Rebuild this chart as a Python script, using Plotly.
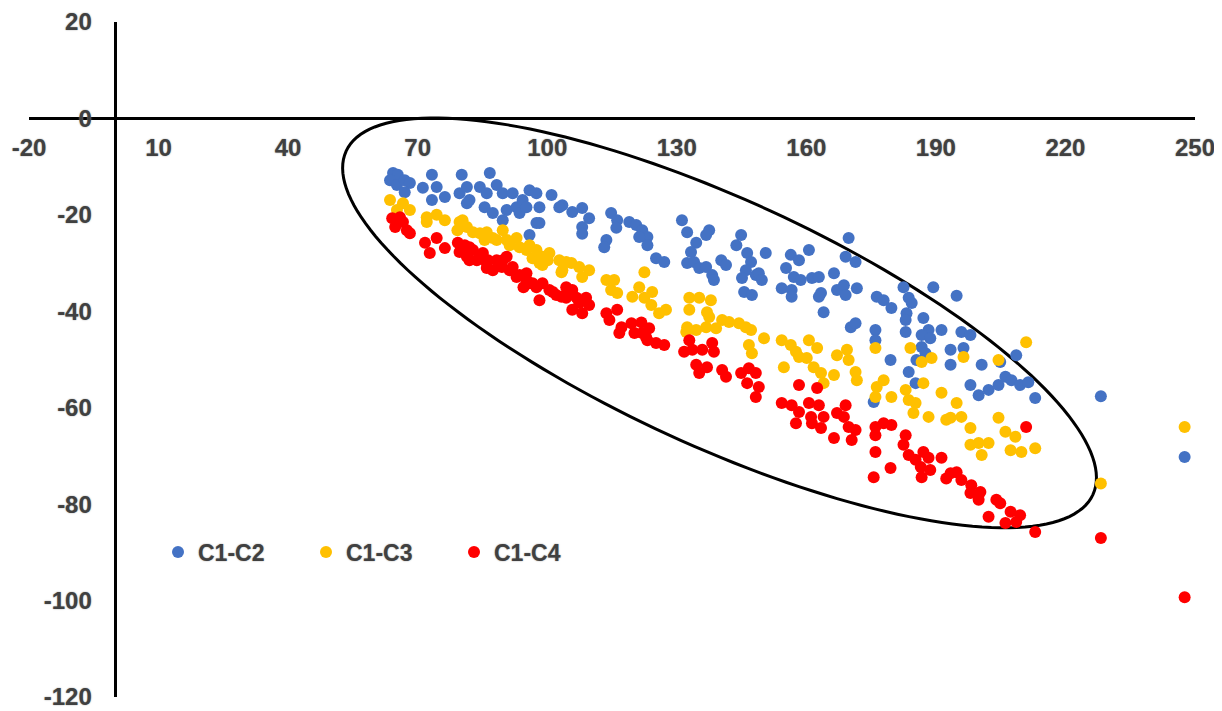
import numpy as np
import plotly.graph_objects as go

# ---------------- data ----------------
series_names = ["C1-C2", "C1-C3", "C1-C4"]
series_colors = ["#4472C4", "#FFC000", "#FF0000"]

c2_x = [64.3, 65.4, 63.6, 65.2, 67.0, 68.2, 67.0, 73.3, 71.2, 74.4, 73.3, 76.3, 80.2, 79.7, 81.4, 81.4,
        86.7, 84.4, 82.0, 86.0, 88.3, 89.7, 85.5, 87.4, 90.6, 92.9, 92.0, 94.3, 95.9, 97.5, 98.2, 101.0,
        103.5, 97.5, 95.9, 93.6, 89.7, 98.2, 95.2, 102.8, 105.8, 108.1, 109.7, 108.1, 108.1, 114.8, 116.2,
        116.0, 113.7, 113.2, 119.0, 120.6, 122.0, 123.2, 121.3, 123.2, 125.2, 127.1, 131.2, 132.4, 134.5,
        133.3, 132.4, 134.0, 135.2, 136.8, 138.2, 138.6, 137.5, 136.8, 140.3, 141.4, 144.9, 143.8, 146.3,
        147.2, 146.0, 145.1, 148.3, 145.6, 147.4, 150.6, 149.0, 149.7, 155.3, 156.4, 158.3, 160.6, 157.1,
        158.7, 161.3, 162.9, 154.3, 156.6, 156.6, 163.4, 162.9, 164.0, 166.4, 167.1, 168.7, 169.1, 171.7,
        169.8, 169.1, 171.4, 170.3, 171.4, 176.3, 177.9, 179.7, 176.0, 176.0, 182.5, 183.7, 184.4, 183.2,
        183.0, 183.0, 187.1, 188.3, 186.7, 188.7, 191.3, 186.7, 187.6, 185.5, 183.7, 185.3, 179.5, 175.6,
        189.4, 194.8, 195.9, 198.0, 193.4, 196.4, 193.4, 200.6, 208.6, 204.9, 198.0, 199.9, 202.2, 204.5,
        206.1, 207.5, 209.5, 211.4, 213.0, 228.2, 247.6]
c2_y = [-11.3, -11.7, -12.8, -13.8, -12.8, -13.4, -15.3, -11.7, -14.4, -14.2, -16.9, -16.3, -11.7, -15.5, -14.2, -17.6,
        -11.3, -14.2, -16.9, -15.5, -13.8, -15.5, -18.4, -19.6, -19.0, -18.4, -15.5, -16.9, -14.9, -15.5, -18.4, -15.9,
        -18.0, -21.7, -24.2, -19.6, -21.1, -21.7, -18.4, -18.4, -19.4, -18.6, -20.7, -22.5, -23.9, -19.6, -21.1,
        -22.7, -25.2, -26.7, -21.5, -22.1, -23.2, -24.6, -24.6, -26.3, -29.0, -29.8, -21.1, -23.6, -25.8,
        -27.7, -30.0, -29.8, -31.0, -30.8, -32.5, -33.5, -23.2, -24.2, -29.4, -30.4, -24.2, -26.3, -27.9,
        -29.8, -31.5, -33.1, -32.5, -36.0, -36.6, -27.9, -32.1, -33.5, -31.0, -28.3, -29.4, -27.3, -32.9,
        -33.5, -33.1, -32.9, -35.2, -35.6, -37.0, -36.2, -37.0, -40.2, -32.1, -35.6, -34.6, -36.6, -35.2,
        -24.8, -28.7, -29.8, -43.3, -42.5, -37.0, -37.7, -39.3, -43.9, -46.0, -35.0, -37.2, -38.3, -40.4,
        -41.8, -44.3, -41.4, -43.9, -44.9, -45.6, -43.9, -47.4, -48.7, -50.1, -52.6, -54.9, -50.1, -58.8,
        -35.0, -36.8, -44.3, -44.9, -48.0, -47.6, -51.1, -51.1, -49.1, -50.5, -55.3, -57.4, -56.3, -55.3,
        -53.6, -54.3, -55.3, -54.7, -58.0, -57.6, -70.2]

c3_x = [63.6, 66.6, 65.2, 68.2, 72.1, 74.4, 76.3, 72.1, 79.7, 79.2, 81.4, 82.8, 84.4, 86.0, 85.5, 88.3,
        89.7, 90.6, 91.3, 92.9, 93.6, 95.2, 97.5, 98.9, 100.5, 98.2, 102.8, 103.5, 104.4, 80.4, 87.4,
        95.9, 96.6, 100.1, 103.3, 98.9, 105.6, 107.4, 109.7, 108.1, 113.7, 115.5, 114.8, 116.2, 122.5,
        121.3, 119.7, 122.5, 124.3, 124.1, 125.9, 127.5, 132.9, 135.2, 137.9, 132.9, 137.0, 137.5, 132.4,
        132.2, 134.5, 136.8, 139.1, 140.5, 142.1, 144.4, 146.0, 147.2, 146.7, 147.4, 150.2, 154.3, 156.4,
        157.6, 160.6, 162.5, 158.3, 160.1, 154.8, 161.7, 163.4, 166.4, 164.0, 167.1, 169.4, 169.8, 171.4,
        171.7, 176.0, 177.9, 176.3, 176.0, 179.7, 184.1, 186.7, 189.0, 187.1, 183.0, 183.7, 185.3, 184.8,
        188.3, 191.3, 192.4, 196.4, 204.5, 210.9, 194.8, 193.4, 195.9, 198.0, 204.5, 206.1, 208.4, 198.0,
        199.9, 202.2, 200.6, 207.3, 209.8, 213.0, 228.2, 247.6]
c3_y = [-16.9, -17.6, -19.0, -19.0, -20.5, -20.0, -21.1, -21.5, -21.5, -23.2, -22.5, -23.6, -23.8, -23.6, -25.2, -25.2,
        -23.2, -25.2, -26.3, -24.8, -26.7, -27.3, -27.3, -28.7, -27.9, -30.0, -29.4, -31.5, -29.8, -21.1, -24.8,
        -26.3, -29.0, -29.4, -31.9, -30.4, -30.0, -30.8, -31.5, -32.9, -33.5, -33.5, -35.6, -36.2, -31.9,
        -35.0, -37.0, -37.2, -36.0, -38.7, -40.4, -39.7, -37.2, -37.2, -37.7, -39.7, -40.2, -41.2, -43.3,
        -44.3, -43.9, -43.3, -43.5, -41.8, -42.2, -42.5, -43.3, -43.9, -47.0, -48.7, -45.6, -46.0, -47.0,
        -48.4, -46.0, -47.6, -49.5, -49.7, -51.6, -51.6, -52.8, -53.2, -54.9, -49.1, -48.0, -50.1, -52.6,
        -54.3, -47.6, -54.3, -55.7, -57.8, -57.8, -47.6, -50.5, -49.7, -54.9, -56.3, -58.4, -59.0, -61.1,
        -61.9, -56.9, -62.5, -49.5, -50.1, -46.4, -59.0, -62.1, -61.9, -64.2, -62.1, -65.0, -66.0, -67.7,
        -67.3, -67.3, -69.8, -68.8, -69.2, -68.4, -75.7, -64.0]

c4_x = [64.1, 64.8, 65.9, 66.6, 67.5, 68.2, 71.7, 74.4, 72.8, 76.3, 79.3, 79.7, 81.4, 80.9, 82.0, 82.8,
        83.7, 84.4, 82.0, 85.1, 86.3, 86.0, 86.0, 87.4, 88.3, 89.7, 89.5, 90.6, 91.3, 92.0, 92.9, 93.6,
        95.2, 95.2, 95.9, 94.5, 96.6, 97.5, 98.9, 98.2, 100.5, 101.3, 102.1, 103.3, 104.4, 104.4, 105.8,
        106.8, 109.0, 107.4, 109.7, 105.8, 108.1, 113.7, 116.2, 114.4, 116.7, 117.2, 119.5, 121.8, 120.2,
        122.0, 123.2, 123.6, 122.9, 125.2, 127.1, 132.9, 131.7, 133.6, 135.9, 138.2, 138.6, 134.5, 137.0,
        135.2, 140.5, 141.4, 144.9, 146.7, 148.3, 146.3, 148.3, 149.0, 158.3, 162.5, 154.3, 156.6, 158.3,
        160.6, 162.9, 157.6, 161.1, 161.3, 163.4, 164.0, 167.1, 169.1, 168.7, 169.8, 171.4, 170.5, 166.4,
        176.0, 177.9, 179.7, 176.0, 183.0, 182.5, 183.7, 185.3, 187.1, 188.3, 186.5, 188.7, 191.3, 176.0,
        179.5, 175.6, 186.7, 192.4, 210.9, 193.4, 194.8, 195.9, 198.2, 198.0, 200.3, 199.9, 204.0, 204.9,
        207.3, 209.5, 208.6, 206.1, 202.2, 213.0, 228.2, 247.6]
c4_y = [-20.7, -22.5, -20.5, -21.5, -23.2, -23.8, -25.8, -24.8, -27.9, -26.9, -25.8, -27.7, -28.7, -26.3, -26.7, -27.3,
        -29.4, -28.7, -29.4, -27.9, -29.4, -30.0, -31.0, -31.5, -29.4, -29.4, -30.8, -28.7, -31.5, -30.8, -32.9, -32.5,
        -32.1, -33.5, -34.2, -35.0, -34.2, -35.0, -34.2, -37.7, -35.6, -36.0, -36.6, -37.0, -37.2, -35.0, -35.6,
        -37.2, -37.2, -38.3, -38.7, -39.7, -40.4, -40.4, -39.7, -41.8, -44.5, -43.3, -42.5, -42.3, -44.5,
        -44.5, -46.0, -43.5, -45.4, -46.6, -47.0, -46.0, -48.4, -48.0, -48.0, -46.6, -48.4, -51.1, -51.6,
        -52.8, -52.2, -53.6, -52.8, -51.8, -52.8, -54.9, -57.8, -55.7, -55.3, -55.9, -59.0, -59.5, -60.9,
        -59.0, -59.5, -63.2, -61.9, -63.2, -64.2, -61.9, -61.1, -59.5, -61.9, -64.0, -64.6, -66.7, -66.3,
        -64.0, -63.2, -63.6, -65.7, -65.7, -67.7, -69.8, -70.8, -69.2, -70.4, -72.3, -72.9, -70.4, -69.2,
        -72.5, -74.4, -74.4, -74.7, -64.0, -73.6, -73.4, -75.0, -76.1, -77.7, -77.5, -79.1, -79.1, -79.8,
        -81.6, -82.3, -83.7, -83.9, -82.6, -85.8, -87.0, -99.3]

x_ticks = [-20, 10, 40, 70, 100, 130, 160, 190, 220, 250]
x_tick_labels = ["-20", "10", "40", "70", "100", "130", "160", "190", "220", "250"]
y_ticks = [20, 0, -20, -40, -60, -80, -100, -120]
y_tick_labels = ["20", "0", "-20", "-40", "-60", "-80", "-100", "-120"]
x_range = [-20, 250]
y_range = [-120, 20]

# ellipse highlighting the main cluster (centre in data units, axes in screen pixels)
ell_cx, ell_cy = 139.9, -42.4
ell_a_px, ell_b_px, ell_angle_deg = 411, 123, 24.7

# ---------------- layout geometry ----------------
# page body has an 8px default margin, so the figure starts at (8, 8)
OFF = 8
W, H = 1222 - OFF, 711 - OFF
M = dict(l=29 - OFF, r=27, t=22 - OFF, b=14, autoexpand=False)
plot_w = W - M["l"] - M["r"]
plot_h = H - M["t"] - M["b"]
kx = plot_w / (x_range[1] - x_range[0])
ky = plot_h / (y_range[1] - y_range[0])

FONT = "Liberation Sans, Arial, sans-serif"
tick_font = dict(family=FONT, size=24, color="#404040", weight="bold",
                 shadow="0px 0px 1.5px #8a8a8a")

fig = go.Figure()
for name, color, xs, ys in zip(series_names, series_colors, [c2_x, c3_x, c4_x], [c2_y, c3_y, c4_y]):
    fig.add_trace(go.Scatter(x=xs, y=ys, mode="markers", name=name,
                             marker=dict(color=color, size=12, line=dict(width=0))))

# ellipse path
t = np.linspace(0, 2 * np.pi, 181)
th = np.deg2rad(ell_angle_deg)
dxp = ell_a_px * np.cos(t) * np.cos(th) - ell_b_px * np.sin(t) * np.sin(th)
dyp = ell_a_px * np.cos(t) * np.sin(th) + ell_b_px * np.sin(t) * np.cos(th)
ex = ell_cx + dxp / kx
ey = ell_cy - dyp / ky
path = "M " + " L ".join(f"{a:.3f},{b:.3f}" for a, b in zip(ex, ey)) + " Z"
fig.add_shape(type="path", path=path, xref="x", yref="y",
              line=dict(color="black", width=3), layer="below")

# page-pixel targets for the legend (first symbol centre)
legend_px_x, legend_px_y = 178, 552

fig.update_layout(
    width=W, height=H, margin=M,
    paper_bgcolor="white", plot_bgcolor="white",
    showlegend=True,
    legend=dict(orientation="h", x=(legend_px_x - 20 - OFF - M["l"]) / plot_w, xanchor="left",
                y=(OFF + H - M["b"] - legend_px_y) / plot_h, yanchor="middle",
                font=dict(family=FONT, size=23, color="#404040", weight="bold",
                          shadow="0px 0px 1.5px #8a8a8a"),
                entrywidth=103, bgcolor="rgba(0,0,0,0)", itemsizing="constant"),
    xaxis=dict(range=x_range, tickvals=x_ticks, ticktext=x_tick_labels, automargin=False,
               showgrid=False, zeroline=False, showline=True, linecolor="black", linewidth=2.5,
               ticks="outside", ticklen=7, tickcolor="rgba(0,0,0,0)",
               tickfont=tick_font, anchor="free",
               position=(0 - y_range[0]) / (y_range[1] - y_range[0])),
    yaxis=dict(range=y_range, tickvals=y_ticks, ticktext=y_tick_labels, automargin=False,
               showgrid=False, zeroline=False, showline=True, linecolor="black", linewidth=2.5,
               ticks="outside", ticklen=18, tickcolor="rgba(0,0,0,0)",
               tickfont=tick_font, anchor="free",
               position=(0 - x_range[0]) / (x_range[1] - x_range[0])),
)

fig.write_html("out.html")
